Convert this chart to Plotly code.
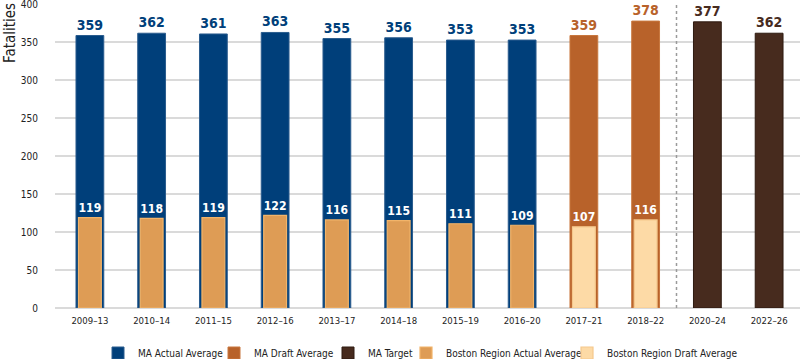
import plotly.graph_objects as go

periods = ["2009–13", "2010–14", "2011–15", "2012–16", "2013–17", "2014–18",
           "2015–19", "2016–20", "2017–21", "2018–22", "2020–24", "2022–26"]
ma_actual = [359, 362, 361, 363, 355, 356, 353, 353, None, None, None, None]
ma_draft = [None] * 8 + [359, 378] + [None, None]
ma_target = [None] * 10 + [377, 362]
boston_actual = [119, 118, 119, 122, 116, 115, 111, 109, None, None, None, None]
boston_draft = [None] * 8 + [107, 116] + [None, None]

FONT = "DejaVu Sans Condensed"
C_ACT = "#003F7A"
C_DRAFT = "#B8622A"
C_TARGET = "#472B1E"
C_BACT = "#DE9C55"
C_BDRAFT = "#FDDAA6"

W, H = 800, 359
PL, PT, PB = 55, 4, 308  # plot area pixel edges

fig = go.Figure()

def ma_trace(name, vals, color, line, leg):
    return go.Bar(
        x=periods, y=vals, name=name, width=0.45, legend=leg,
        marker=dict(color=color, line=dict(color=line, width=1)),
        text=[("%d" % v) if v is not None else "" for v in vals],
        textposition="outside", cliponaxis=False,
        textfont=dict(family=FONT, size=14, color=color, weight="bold"),
    )

def bos_trace(name, vals, color, line, leg):
    return go.Bar(
        x=periods, y=vals, name=name, width=0.37, legend=leg,
        marker=dict(color=color, line=dict(color=line, width=1.2)),
        text=[("%d" % v) if v is not None else "" for v in vals],
        textposition="outside", cliponaxis=False,
        textfont=dict(family=FONT, size=14, color="white", weight="bold"),
    )

fig.add_trace(ma_trace("MA Actual Average", ma_actual, C_ACT, "#2A5C8E", "legend"))
fig.add_trace(ma_trace("MA Draft Average", ma_draft, C_DRAFT, "#C8773E", "legend2"))
fig.add_trace(ma_trace("MA Target", ma_target, C_TARGET, "#2E1A10", "legend3"))
fig.add_trace(bos_trace("Boston Region Actual Average", boston_actual, C_BACT, "#F2B46A", "legend4"))
fig.add_trace(bos_trace("Boston Region Draft Average", boston_draft, C_BDRAFT, "#F5C88C", "legend5"))

fig.add_shape(type="line", xref="x", yref="y", x0=9.5, x1=9.5, y0=0, y1=400.5,
              line=dict(color="#9A9A9A", width=1.5, dash="dot"))

fig.add_annotation(text="Fatalities", textangle=-90, xref="paper", yref="paper",
                   x=(10 - PL) / (W - PL), y=(PB - 1) / (PB - PT),
                   xanchor="center", yanchor="top", showarrow=False,
                   font=dict(size=15, color="#222222"))

def leg(text_start_px):
    return dict(orientation="h", xref="container", yref="container",
                x=(text_start_px - 39) / W, xanchor="left",
                y=1 - 353 / H, yanchor="middle",
                font=dict(size=10, color="#222222"), itemwidth=30,
                bgcolor="rgba(0,0,0,0)")

fig.update_layout(
    width=W, height=H,
    margin=dict(l=PL, r=0, t=PT, b=H - PB, autoexpand=False),
    barmode="overlay",
    plot_bgcolor="white", paper_bgcolor="white",
    font=dict(family=FONT, size=10, color="#222222"),
    showlegend=True,
    legend=leg(137), legend2=leg(253), legend3=leg(367),
    legend4=leg(445), legend5=leg(606),
    xaxis=dict(range=[-0.565, 11.5], showgrid=False, zeroline=False, showline=False,
               ticks="outside", ticklen=4, tickcolor="white", automargin=False,
               tickfont=dict(size=9.5), fixedrange=True),
    yaxis=dict(range=[0, 400.5], tickvals=[0, 50, 100, 150, 200, 250, 300, 350, 400],
               showgrid=True, gridcolor="#DADADA", gridwidth=1.5,
               zeroline=True, zerolinecolor="#DADADA", zerolinewidth=1.5,
               ticks="outside", ticklen=14, tickcolor="white", automargin=False,
               ticklabeloverflow="allow", tickfont=dict(size=10)),
)

fig.write_html("out.html", config={"displayModeBar": False},
               post_script="document.body.style.margin='0px';")
